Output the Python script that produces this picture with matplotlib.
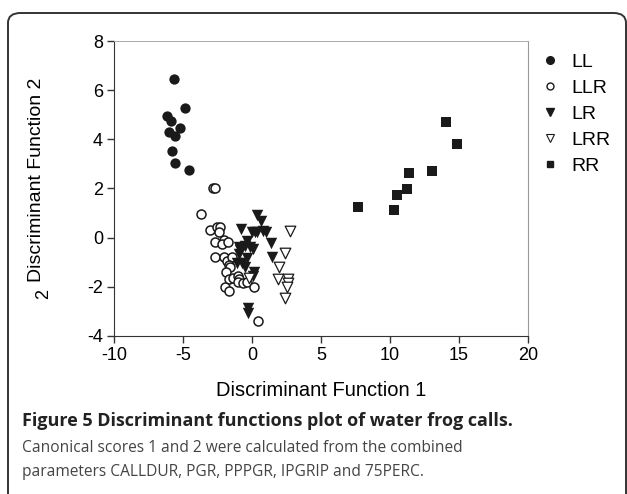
import matplotlib
matplotlib.use('Agg')
from matplotlib import pyplot as plt
from matplotlib.patches import FancyBboxPatch
from matplotlib.lines import Line2D

# Canonical scores
llX = [-5.63, -4.83, -6.14, -5.89, -5.22, -6.01, -5.60, -5.77, -5.58, -4.57]
llY = [6.44, 5.26, 4.96, 4.76, 4.47, 4.30, 4.12, 3.51, 3.04, 2.74]

llrX = [-2.85, -2.70, -3.70, -3.07, -2.51, -2.30, -2.39, -2.70, -2.05, -2.15,
        -1.76, -2.66, -2.03, -1.79, -1.47, -1.69, -1.59, -1.88, -1.69, -1.35,
        -1.01, -0.96, -1.04, -0.67, -0.38, -1.93, -1.64, 0.14, 0.43]
llrY = [2.02, 2.03, 0.96, 0.33, 0.45, 0.45, 0.23, -0.19, -0.09, -0.26,
        -0.19, -0.80, -0.77, -0.93, -0.80, -1.12, -1.18, -1.39, -1.69, -1.65,
        -1.56, -1.69, -1.79, -1.83, -1.80, -1.99, -2.17, -1.99, -3.39]

lrX = [0.39, 0.63, -0.82, -0.02, 0.22, 0.39, 0.82, 1.01, 1.35, -0.34,
       -0.96, -0.87, -0.51, -0.14, 0.10, -0.96, -0.38, 1.45, -1.06, -0.75,
       -0.49, 0.14, 0.10, -0.27, -0.27]
lrY = [0.92, 0.69, 0.34, 0.24, 0.24, 0.24, 0.28, 0.24, -0.20, -0.13,
       -0.39, -0.50, -0.34, -0.39, -0.47, -0.66, -0.84, -0.77, -1.02, -1.02,
       -1.20, -1.39, -1.56, -2.87, -3.07]

lrrX = [2.75, 2.37, 1.93, -0.22, 1.91, 2.59, 2.59, 2.51, 2.37]
lrrY = [0.27, -0.61, -1.18, -1.65, -1.68, -1.69, -1.83, -2.02, -2.45]

rrX = [14.03, 14.83, 11.38, 13.04, 11.21, 10.48, 10.29, 7.68]
rrY = [4.69, 3.82, 2.64, 2.71, 1.97, 1.74, 1.13, 1.24]

groups = ['LL', 'LLR', 'LR', 'LRR', 'RR']
xTicks = [-10, -5, 0, 5, 10, 15, 20]
yTicks = [-4, -2, 0, 2, 4, 6, 8]

plotFont = 'Liberation Sans'
captionFont = 'Open Sans'
ink = '#1a1a1a'

fig = plt.figure(figsize=(6.27, 4.94), dpi=100)

#Rounded frame around the whole figure (bottom runs off the picture)
frame = FancyBboxPatch((8 / 627, -0.1), 618 / 627, (494 - 13) / 494 + 0.1,
                       boxstyle='round,pad=0,rounding_size=0.02',
                       transform=fig.transFigure, fill=False,
                       edgecolor='#333333', linewidth=1.4, clip_on=False)
fig.patches.append(frame)

ax = fig.add_axes([114 / 627, (494 - 336) / 494, 414 / 627, 295 / 494])

ax.scatter(llX, llY, s=55, marker='o', color=ink, linewidths=0, label=groups[0])
ax.scatter(llrX, llrY, s=42, marker='o', facecolors='white', edgecolors=ink, linewidths=1.1, label=groups[1])
ax.scatter(lrX, lrY, s=68, marker='v', color=ink, linewidths=0, label=groups[2])
ax.scatter(lrrX, lrrY, s=58, marker='v', facecolors='white', edgecolors=ink, linewidths=0.9, label=groups[3])
ax.scatter(rrX, rrY, s=46, marker='s', color=ink, linewidths=0, label=groups[4])

ax.set_xlim(-10, 20)
ax.set_ylim(-4, 8)
ax.set_xticks(xTicks)
ax.set_yticks(yTicks)
ax.set_xticklabels([str(t) for t in xTicks], fontsize=13, family=plotFont)
ax.set_yticklabels([str(t) for t in yTicks], fontsize=13, family=plotFont)
ax.tick_params(axis='both', direction='out', length=5, width=1, color='#333333', pad=3)

#Left/bottom dark, top/right light grey
ax.spines['left'].set_color('#333333')
ax.spines['bottom'].set_color('#333333')
ax.spines['top'].set_color('#aaaaaa')
ax.spines['right'].set_color('#999999')
ax.spines['top'].set_linewidth(0.7)
ax.spines['right'].set_linewidth(0.8)

ax.set_xlabel('Discriminant Function 1', fontsize=14.5, family=plotFont, labelpad=12)
ax.set_ylabel('Discriminant Function 2', fontsize=14, family=plotFont)
ax.yaxis.set_label_coords((45 - 114) / 414, (336 - 180) / 295)

#stray rotated "2" that sits next to the -2 tick in the original
fig.text(44 / 627, 1 - 294 / 494, '2', rotation=90, fontsize=13, family=plotFont,
         ha='center', va='center')

#Legend
handles = [
    Line2D([], [], linestyle='none', marker='o', markersize=5.5, color=ink),
    Line2D([], [], linestyle='none', marker='o', markersize=5, markerfacecolor='white', markeredgecolor=ink),
    Line2D([], [], linestyle='none', marker='v', markersize=6, color=ink),
    Line2D([], [], linestyle='none', marker='v', markersize=6, markerfacecolor='white', markeredgecolor=ink, markeredgewidth=0.8),
    Line2D([], [], linestyle='none', marker='s', markersize=5, color=ink),
]
fig.legend(handles, groups, loc='upper left', bbox_to_anchor=(540 / 627, 1 - 53 / 494),
           frameon=False, prop={'family': plotFont, 'size': 14}, handlelength=1.0,
           handletextpad=0.6, labelspacing=0.44, borderaxespad=0, borderpad=0)

#Caption
fig.text(22 / 627, 1 - 421 / 494, 'Figure 5 Discriminant functions plot of water frog calls.',
         fontsize=13, fontweight='bold', family=captionFont, color='#222222', va='center')
fig.text(22 / 627, 1 - 448 / 494, 'Canonical scores 1 and 2 were calculated from the combined',
         fontsize=11.2, family=captionFont, color='#444444', va='center')
fig.text(22 / 627, 1 - 472 / 494, 'parameters CALLDUR, PGR, PPPGR, IPGRIP and 75PERC.',
         fontsize=11.2, family=captionFont, color='#444444', va='center')

plt.savefig('out.png', dpi=100)
